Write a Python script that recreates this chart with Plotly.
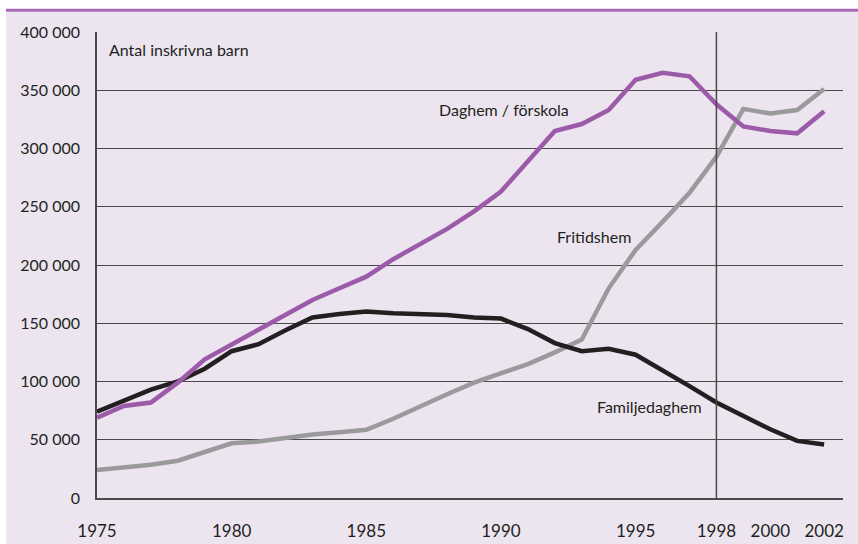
import plotly.graph_objects as go

years = list(range(1975, 2003))

daghem = [69000, 79000, 82000, 99000, 119000, 132000, 145000, 158000, 170000, 180000,
          190000, 205000, 218000, 231000, 246000, 263000, 289000, 315000, 321000, 333000,
          359000, 365000, 362000, 338000, 319000, 315000, 313000, 332000]

fritidshem = [24000, 26500, 28500, 32000, 40000, 47000, 48500, 51500, 54500, 56500,
              58500, 68000, 79000, 89000, 99000, 107000, 115000, 125000, 136000, 180000,
              213000, 237000, 262000, 293000, 334000, 330000, 333000, 351000]

familjedaghem = [74000, 84000, 93000, 100000, 111000, 126000, 132000, 144000, 155000, 158000,
                 160000, 158500, 158000, 157000, 155000, 154000, 145000, 133000, 126000, 128000,
                 123000, 110000, 96000, 82000, 70000, 59000, 49000, 46000]

x_ticks = [1975, 1980, 1985, 1990, 1995, 1998, 2000, 2002]
y_ticks = list(range(0, 400001, 50000))
y_ticktext = ["0" if v == 0 else f"{v // 1000} 000" for v in y_ticks]

BG = "#ECE5F0"
TXT = "#231F20"

fig = go.Figure()
fig.add_trace(go.Scatter(x=years, y=fritidshem, mode="lines", name="Fritidshem",
                         line=dict(color="#9A9A9C", width=4.5)))
fig.add_trace(go.Scatter(x=years, y=familjedaghem, mode="lines", name="Familjedaghem",
                         line=dict(color="#231F20", width=4.5)))
fig.add_trace(go.Scatter(x=years, y=daghem, mode="lines", name="Daghem / förskola",
                         line=dict(color="#9B5BA8", width=4.5)))

# background band + purple rule at the top of the page
fig.add_shape(type="rect", xref="paper", yref="paper", x0=-0.122, x1=1.05, y0=-0.15, y1=1.043,
              fillcolor=BG, line_width=0, layer="below")
fig.add_shape(type="line", xref="paper", yref="paper", x0=-0.122, x1=1.05, y0=1.0465, y1=1.0465,
              line=dict(color="#A868B4", width=3))
# 1998 divider
fig.add_shape(type="line", xref="x", yref="y", x0=1998, x1=1998, y0=0, y1=400000,
              line=dict(color="#4a4a4a", width=1.5))

labels = [
    ("Antal inskrivna barn", 1975.37, 385400),
    ("Daghem / förskola", 1987.64, 333100),
    ("Fritidshem", 1991.99, 224200),
    ("Familjedaghem", 1993.48, 78500),
]
for text, lx, ly in labels:
    fig.add_annotation(x=lx, y=ly, text=text, showarrow=False, xanchor="left", yanchor="middle",
                       font=dict(size=16, color=TXT))

fig.update_layout(
    width=858, height=544,
    margin=dict(l=97, r=15, t=32, b=46),
    paper_bgcolor="white",
    plot_bgcolor="rgba(0,0,0,0)",
    showlegend=False,
    font=dict(family="Lato, Open Sans, sans-serif", size=16, color=TXT),
)
fig.update_xaxes(range=[1975, 2002.7], tickvals=x_ticks, showgrid=False, zeroline=False,
                 showline=True, linecolor="#4a4a4a", linewidth=1.5, ticks="",
                 ticklabelstandoff=17, tickfont=dict(size=17), automargin=False,
                 fixedrange=True)
fig.update_yaxes(range=[0, 400000], tickvals=y_ticks, ticktext=y_ticktext, showgrid=True,
                 gridcolor="#4a4a4a", gridwidth=1, zeroline=False, showline=True,
                 linecolor="#4a4a4a", linewidth=1.5, ticks="", ticklabelstandoff=12,
                 automargin=False, fixedrange=True)

# drop the default body margin so the figure sits at the page corner
fig.write_html("out.html", config={"displayModeBar": False},
               post_script="document.body.style.margin='0';document.body.style.overflow='hidden';")
